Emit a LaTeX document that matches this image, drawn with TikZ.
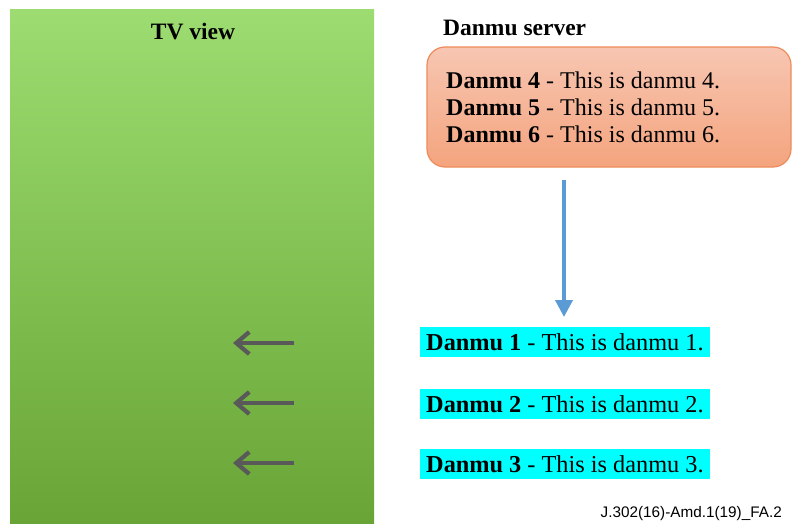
\documentclass[tikz,border=0pt]{standalone}
\usepackage{fontspec}
\setmainfont{Liberation Serif}
\newfontfamily\footfont{Liberation Sans}
\usetikzlibrary{arrows.meta}
\definecolor{tvtop}{RGB}{156,220,112}
\definecolor{tvbot}{RGB}{105,165,54}
\definecolor{srvtop}{RGB}{247,198,178}
\definecolor{srvbot}{RGB}{244,164,126}
\definecolor{srvline}{RGB}{237,140,90}
\definecolor{flowblue}{RGB}{91,155,213}
\definecolor{movegray}{RGB}{89,89,89}
\definecolor{danmucyan}{RGB}{0,255,255}
\tikzset{
  x=1pt, y=-1pt,
  title/.style={font=\fontsize{23.5}{27}\selectfont\bfseries, inner sep=0pt},
  msg/.style={fill=danmucyan, font=\fontsize{24.3}{27}\selectfont, inner xsep=6pt, inner ysep=0pt,
    minimum height=30pt, anchor=west},
  movearrow/.style={draw=movegray, line width=4.2pt, -{Straight Barb[length=13pt, width=22pt, line width=4.2pt]}},
}
\begin{document}
\begin{tikzpicture}
\useasboundingbox (0,0) rectangle (792,524);
% TV screen area
\shade[top color=tvtop, bottom color=tvbot] (10,10) rectangle (374,524);
\node[title] (tv) at (193,32) {TV view};
% server with queued comments
\node[title, anchor=west] (srvtitle) at (443,28) {Danmu server};
\shade[top color=srvtop, bottom color=srvbot, rounded corners=18pt] (427,47) rectangle (791,167);
\draw[srvline, line width=1.2pt, rounded corners=18pt] (427,47) rectangle (791,167);
\node[anchor=west, align=left, inner sep=0pt, font=\fontsize{24}{27}\selectfont] (srv) at (446,107)
  {\textbf{Danmu 4} - This is danmu 4.\\ \textbf{Danmu 5} - This is danmu 5.\\ \textbf{Danmu 6} - This is danmu 6.};
\coordinate (srvout) at (564,180);
\coordinate (msgin) at (564,317);
\draw[flowblue, line width=3.8pt, -{Triangle[length=17pt, width=17pt]}] (srvout) -- (msgin);
% comments on screen
\node[msg] (m1) at (420,342) {\textbf{Danmu 1} - This is danmu 1.};
\node[msg] (m2) at (420,404) {\textbf{Danmu 2} - This is danmu 2.};
\node[msg] (m3) at (420,464) {\textbf{Danmu 3} - This is danmu 3.};
\foreach \i/\y in {1/343,2/403,3/463} {
  \coordinate (a\i s) at (294,\y);
  \coordinate (a\i e) at (233,\y);
  \draw[movearrow] (a\i s) -- (a\i e);
}
\node[anchor=east, inner sep=0pt, font=\footfont\fontsize{15.3}{17}\selectfont] (fig) at (782,514) {J.302(16)-Amd.1(19)\_FA.2};
\end{tikzpicture}
\end{document}
